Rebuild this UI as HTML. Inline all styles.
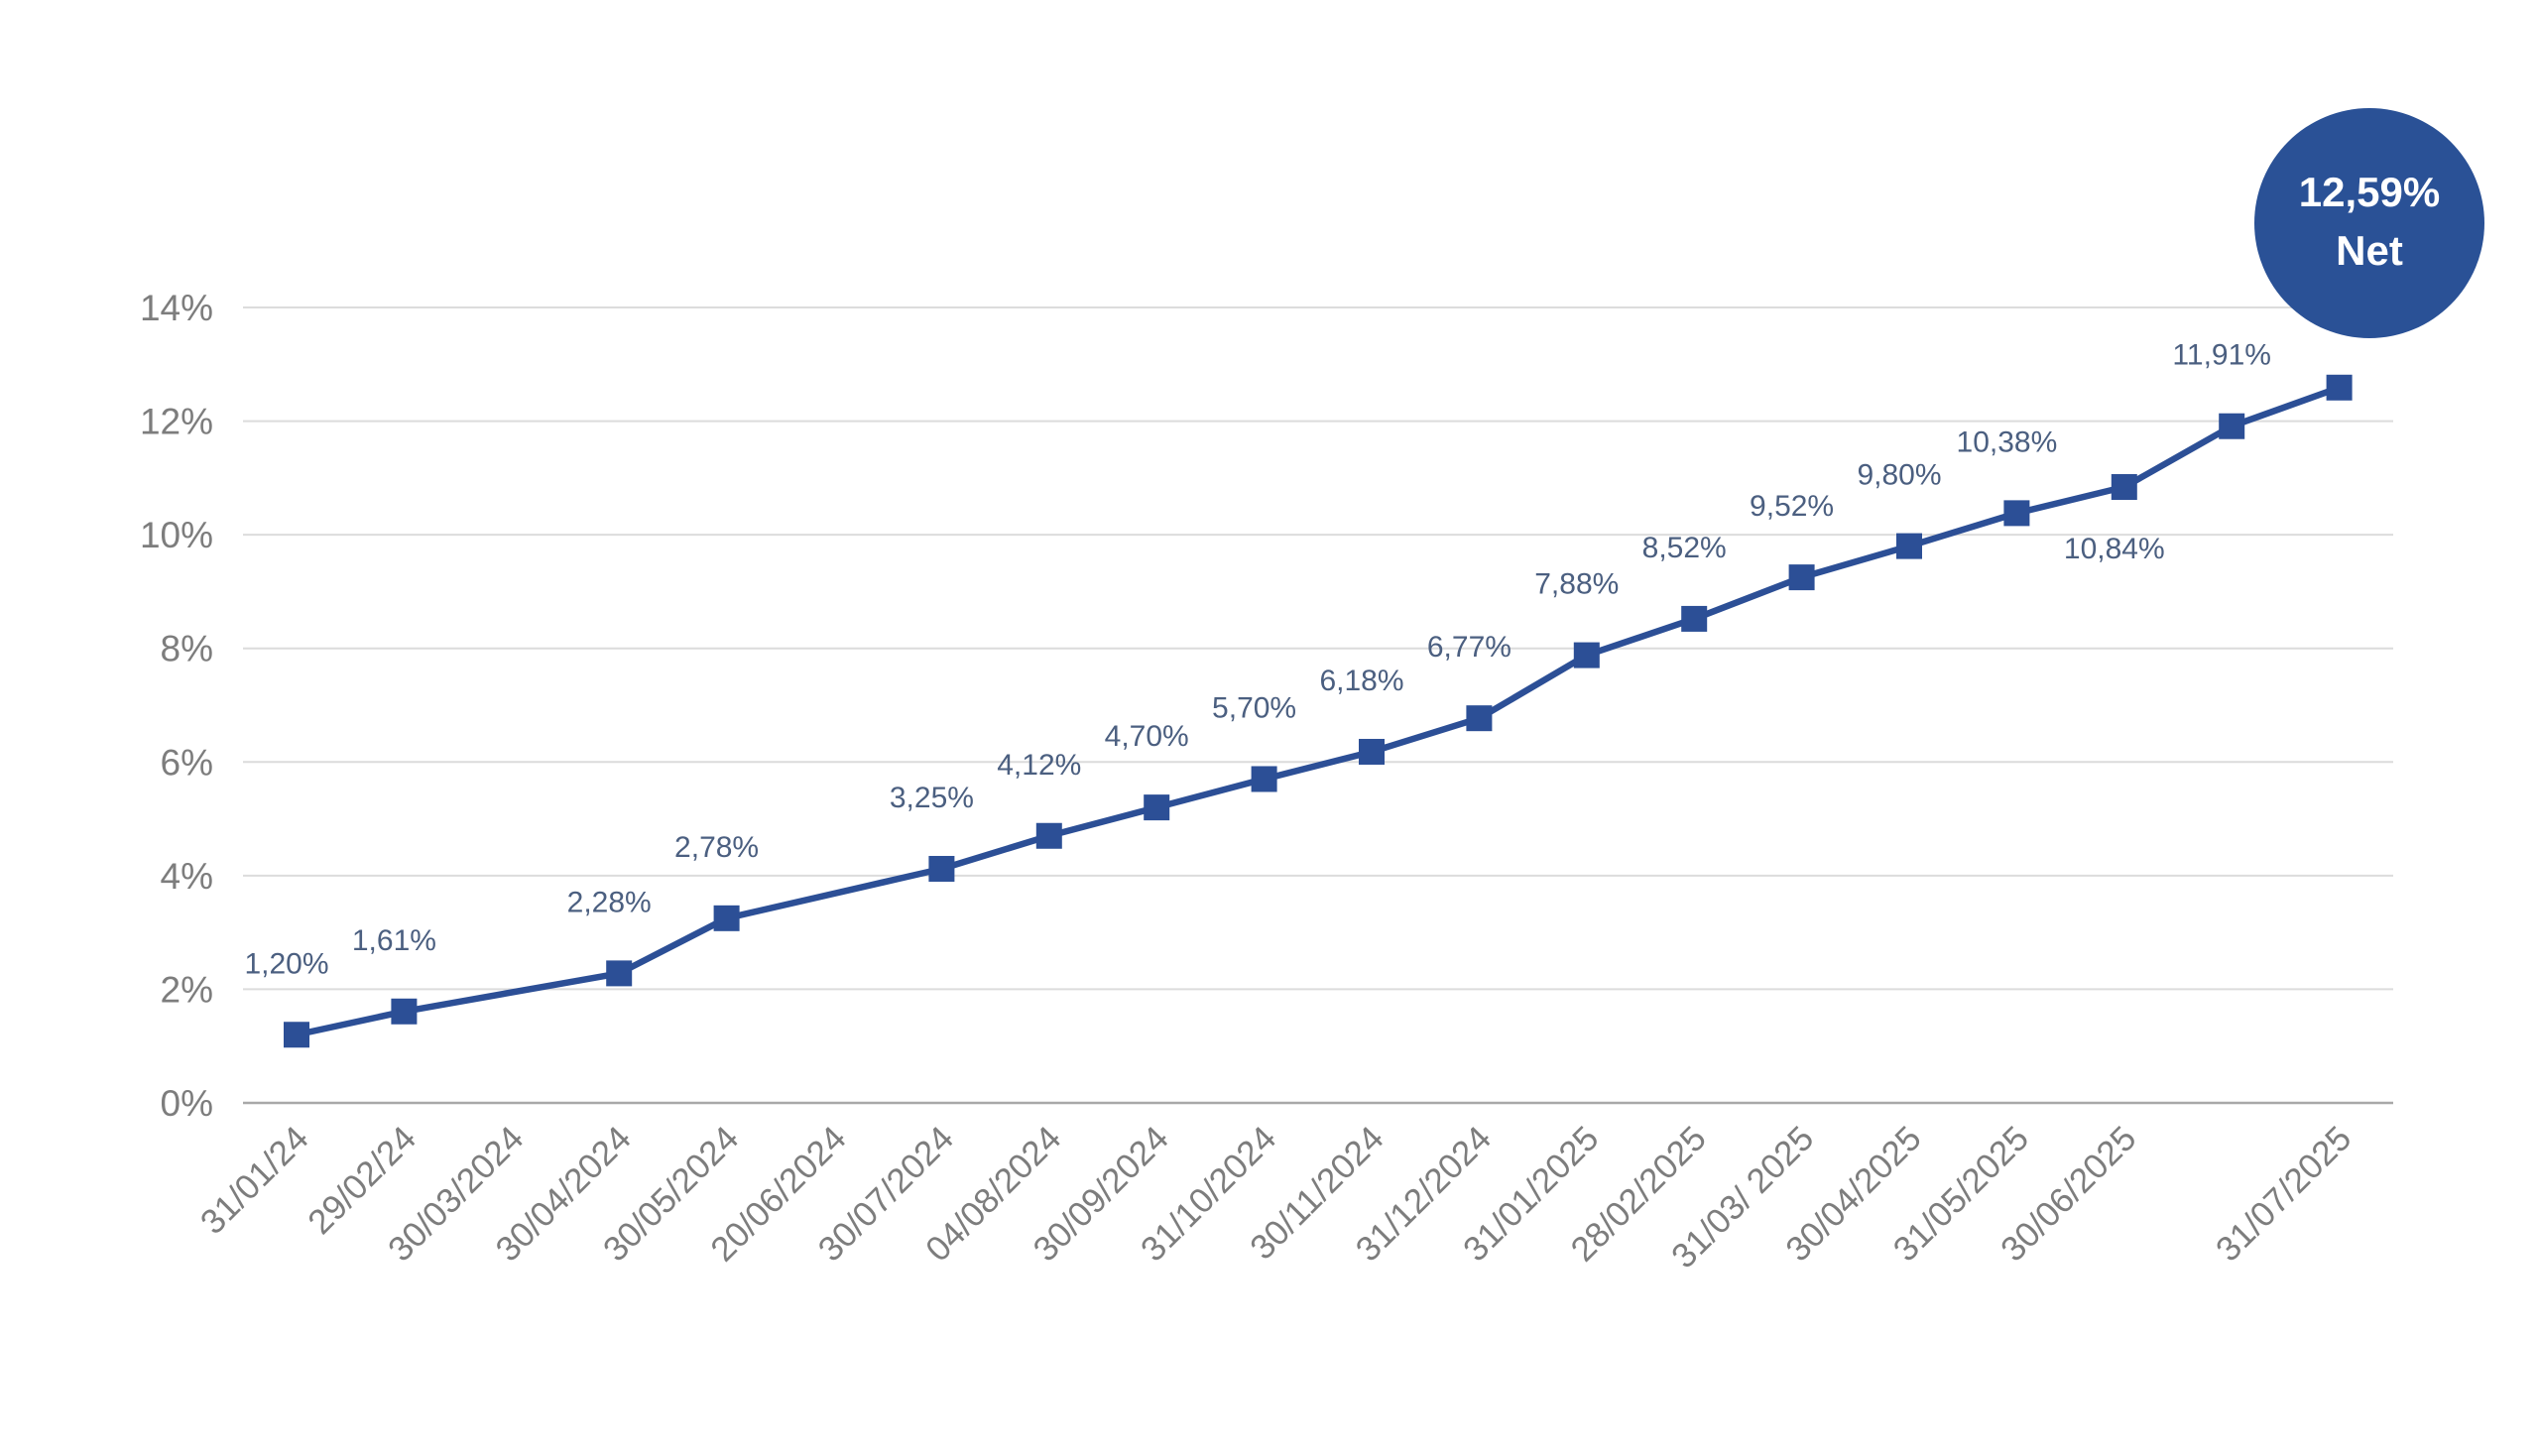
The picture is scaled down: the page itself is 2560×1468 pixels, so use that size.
<!DOCTYPE html>
<html><head><meta charset="utf-8"><style>
html,body{margin:0;padding:0;background:#fff;}
svg{display:block;font-family:"Liberation Sans",sans-serif;}
</style></head><body>
<svg id="chart" width="2560" height="1468" viewBox="0 0 2560 1468" xmlns="http://www.w3.org/2000/svg"></svg>
<script>
const categories=["31/01/24","29/02/24","30/03/2024","30/04/2024","30/05/2024","20/06/2024","30/07/2024","04/08/2024","30/09/2024","31/10/2024","30/11/2024","31/12/2024","31/01/2025","28/02/2025","31/03/ 2025","30/04/2025","31/05/2025","30/06/2025","","31/07/2025"];
const values=[1.20,1.61,null,2.28,3.25,null,4.12,4.70,5.20,5.70,6.18,6.77,7.88,8.52,9.25,9.80,10.38,10.84,11.91,12.59];
const pointLabels=["1,20%","1,61%","","2,28%","2,78%","","3,25%","4,12%","4,70%","5,70%","6,18%","6,77%","7,88%","8,52%","9,52%","9,80%","10,38%","10,84%","11,91%",""];
const labelBelow=[false,false,false,false,false,false,false,false,false,false,false,false,false,false,false,false,false,true,false,false];
const yTicks=[0,2,4,6,8,10,12,14];
const yTickLabels=["0%","2%","4%","6%","8%","10%","12%","14%"];
const finalValue="12,59%";
const finalSub="Net";

const svg=document.getElementById('chart');
const NS="http://www.w3.org/2000/svg";
const x0=245,x1=2413,y0=1112,y14=310;
const step=108.4,firstX=299;
const X=i=>firstX+i*step;
const Y=v=>y0-(v/14)*(y0-y14);
function mk(t,a,p){const e=document.createElementNS(NS,t);for(const k in a)e.setAttribute(k,a[k]);(p||svg).appendChild(e);return e;}

yTicks.forEach((t,i)=>{
  const g=mk('line',{x1:x0,x2:x1,y1:Y(t),y2:Y(t),stroke:t===0?'#a8a8a8':'#dcdcdc','stroke-width':t===0?2.5:2});
  
  
  const l=mk('text',{x:215,y:Y(t)+13,'text-anchor':'end','font-size':37,fill:'#7d7d7d'});
  l.textContent=yTickLabels[i];
  
  
});

categories.forEach((c,i)=>{
  if(!c)return;
  const x=X(i)+14,y=1150;
  const t=mk('text',{x:x,y:y,'text-anchor':'end','font-size':35,fill:'#7d7d7d',transform:`rotate(-45 ${x} ${y})`});
  t.textContent=c;
  
  
});

let d='';
values.forEach((v,i)=>{if(v===null)return;d+=(d?'L':'M')+X(i)+','+Y(v);});
const path=mk('path',{d:d,fill:'none',stroke:'#2c4f96','stroke-width':6.5,'stroke-linejoin':'round'});



values.forEach((v,i)=>{
  if(v===null)return;
  const r=mk('rect',{x:X(i)-13,y:Y(v)-13,width:26,height:26,fill:'#2c4f96'});
  
  
  if(pointLabels[i]){
    const ly=labelBelow[i]?Y(v)+72:Y(v)-62;
    const t=mk('text',{x:X(i)-10,y:ly,'text-anchor':'middle','font-size':30,fill:'#4b5f80'});
    t.textContent=pointLabels[i];
    
    
  }
});

const bub=mk('circle',{cx:2389,cy:225,r:116,fill:'#2a5196'});


const b1=mk('text',{x:2389,y:208,'text-anchor':'middle','font-size':42,'font-weight':'bold',fill:'#fff'});
b1.textContent=finalValue;


const b2=mk('text',{x:2389,y:267,'text-anchor':'middle','font-size':42,'font-weight':'bold',fill:'#fff'});
b2.textContent=finalSub;


</script>
</body></html>
